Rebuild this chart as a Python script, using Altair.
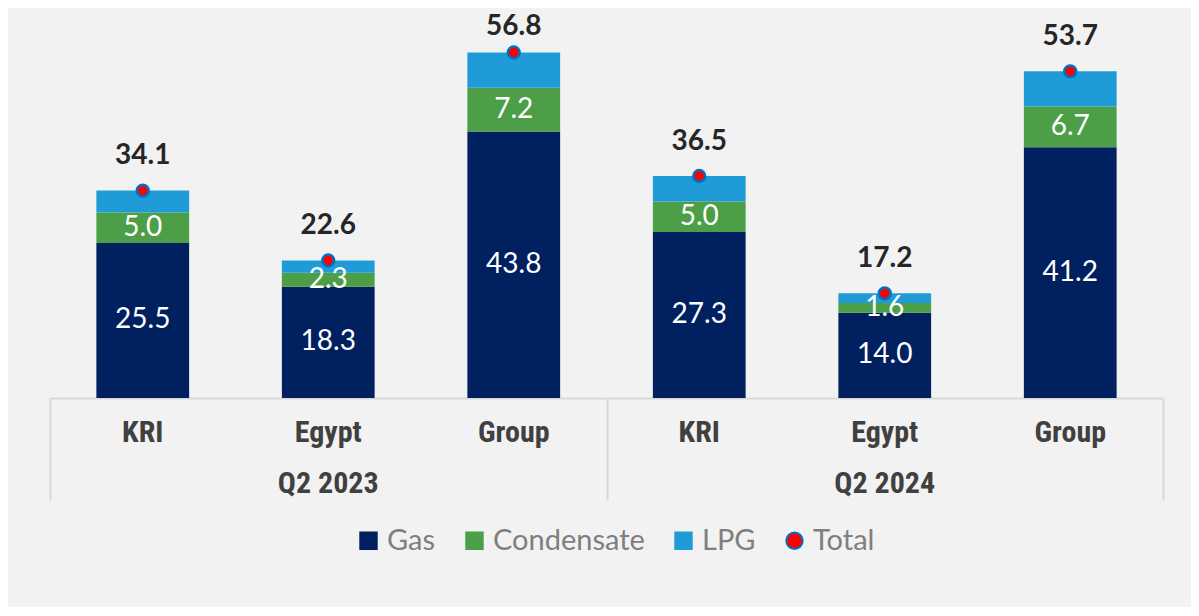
import altair as alt
import pandas as pd

periods = ["Q2 2023", "Q2 2023", "Q2 2023", "Q2 2024", "Q2 2024", "Q2 2024"]
categories = ["KRI", "Egypt", "Group", "KRI", "Egypt", "Group"]
gas = [25.5, 18.3, 43.8, 27.3, 14.0, 41.2]
condensate = [5.0, 2.3, 7.2, 5.0, 1.6, 6.7]
lpg = [3.6, 2.0, 5.8, 4.2, 1.6, 5.8]
totals = [34.1, 22.6, 56.8, 36.5, 17.2, 53.7]

period_labels = ["Q2 2023", "Q2 2024"]
cat_order = ["KRI", "Egypt", "Group"]
series = ["Gas", "Condensate", "LPG", "Total"]
fills = ["#002060", "#4c9f47", "#1f9bd7", "#ff0000"]
strokes = ["#002060", "#4c9f47", "#1f9bd7", "#0070c0"]
shapes = ["square", "square", "square", "circle"]

df = pd.DataFrame({
    "period": periods, "cat": categories, "Gas": gas,
    "Condensate": condensate, "LPG": lpg, "Total": totals,
})
pdf = pd.DataFrame({"period": period_labels})

NUM_FONT = "Lato"
AX_FONT = "Roboto Condensed, Liberation Sans Narrow, Roboto, sans-serif"

x = alt.X("period:N", sort=period_labels,
          scale=alt.Scale(paddingInner=0, paddingOuter=0),
          axis=alt.Axis(labels=False, title=None, tickBand="extent", tickSize=102,
                        tickColor="#d9d9d9", tickWidth=2, domainColor="#d9d9d9",
                        domainWidth=2, grid=False))
xo = alt.XOffset("cat:N", sort=cat_order,
                 scale=alt.Scale(paddingInner=0.5, paddingOuter=0.25))
yscale = alt.Scale(domain=[0, 60])

legend = alt.Legend(title=None, orient="none", direction="horizontal",
                    legendX=304, legendY=493, labelFont=NUM_FONT, labelFontSize=29,
                    labelColor="#7f7f7f", symbolSize=270, symbolStrokeWidth=2,
                    labelOffset=4, columnPadding=24)
fill_scale = alt.Scale(domain=series, range=fills)

base = alt.Chart(df)

bars = base.transform_fold(
    ["Gas", "Condensate", "LPG"], as_=["series", "value"]
).transform_calculate(
    ord="indexof(['Gas','Condensate','LPG'], datum.series)"
).mark_bar().encode(
    x=x, xOffset=xo,
    y=alt.Y("value:Q", stack="zero", scale=yscale, axis=None),
    fill=alt.Fill("series:N", scale=fill_scale, legend=legend),
    order=alt.Order("ord:Q"),
)

points = base.transform_calculate(series="'Total'").mark_point(
    filled=True, size=140, strokeWidth=2.5, opacity=1
).encode(
    x=x, xOffset=xo,
    y=alt.Y("Total:Q", scale=yscale, axis=None),
    fill=alt.Fill("series:N", scale=fill_scale, legend=legend),
    stroke=alt.Stroke("series:N", scale=alt.Scale(domain=series, range=strokes), legend=legend),
    shape=alt.Shape("series:N", scale=alt.Scale(domain=series, range=shapes), legend=legend),
)

gas_text = base.transform_calculate(ym="datum.Gas / 2").mark_text(
    color="white", font=NUM_FONT, fontSize=28, baseline="middle"
).encode(x=x, xOffset=xo, y=alt.Y("ym:Q", scale=yscale, axis=None),
         text=alt.Text("Gas:Q", format=".1f"))

cond_text = base.transform_calculate(ym="datum.Gas + datum.Condensate / 2").mark_text(
    color="white", font=NUM_FONT, fontSize=28, baseline="middle"
).encode(x=x, xOffset=xo, y=alt.Y("ym:Q", scale=yscale, axis=None),
         text=alt.Text("Condensate:Q", format=".1f"))

total_text = base.transform_calculate(ym="min(datum.Total + 5.6, 61)").mark_text(
    color="#262626", font=NUM_FONT, fontSize=28, fontWeight="bold", baseline="middle"
).encode(x=x, xOffset=xo, y=alt.Y("ym:Q", scale=yscale, axis=None),
         text=alt.Text("Total:Q", format=".1f"))

cat_text = base.mark_text(
    color="#404040", font=AX_FONT, fontSize=30, fontWeight="bold", baseline="middle"
).encode(x=x, xOffset=xo, y=alt.value(400), text="cat:N")

period_text = alt.Chart(pdf).mark_text(
    color="#404040", font=AX_FONT, fontSize=30, fontWeight="bold", baseline="middle"
).encode(x=x, y=alt.value(451), text="period:N")

chart = alt.layer(
    bars, points, gas_text, cond_text, total_text, cat_text, period_text
).properties(
    width=1113, height=365,
    padding={"left": 42, "top": 25, "right": 28, "bottom": 209},
    autosize=alt.AutoSizeParams(type="none"),
    background="#f2f2f2",
).configure_view(stroke="transparent")

chart.save("out.html", embed_options={"renderer": "svg", "actions": False})
